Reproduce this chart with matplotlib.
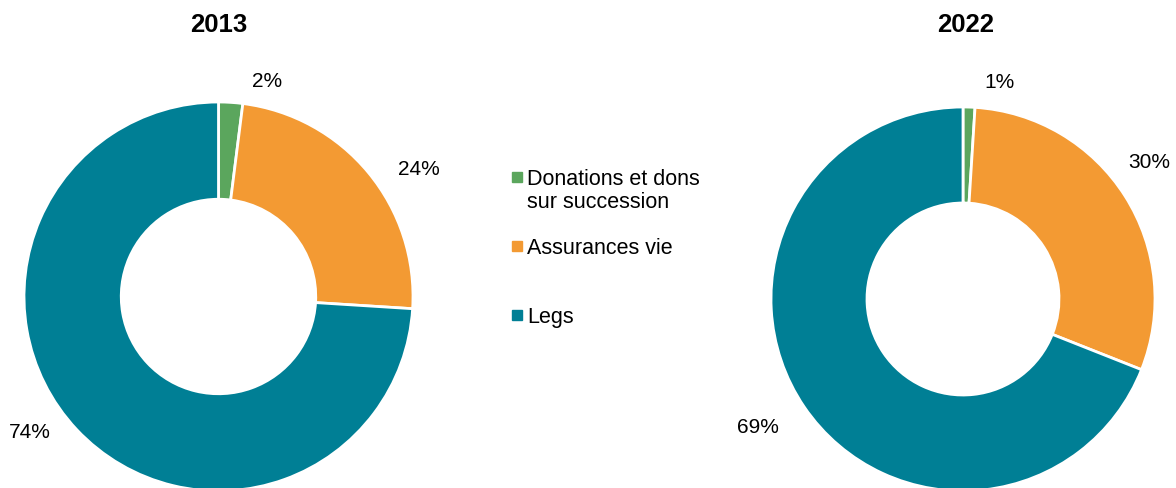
import matplotlib
matplotlib.use("Agg")
import matplotlib.pyplot as plt
from matplotlib.lines import Line2D

plt.rcParams['font.family'] = ['Liberation Sans', 'DejaVu Sans']

# ---- data ----
categories = ["Donations et dons\nsur succession", "Assurances vie", "Legs"]
years = ["2013", "2022"]
values_2013 = [2, 24, 74]
values_2022 = [1, 30, 69]
colors = ["#5BA65D", "#F39A33", "#007F95"]

# ---- layout (pixels) ----
W, H = 1176, 488
fig = plt.figure(figsize=(W / 100, H / 100), dpi=100)

donuts = [
    dict(vals=values_2013, title=years[0], cx=218.5, cy=296.5, R=194.5, title_x=219,
         label_pos=[(0.25, 1.105), (1.03, 0.655), (-0.97, -0.70)]),
    dict(vals=values_2022, title=years[1], cx=963, cy=299, R=192, title_x=966,
         label_pos=[(0.19, 1.13), (0.97, 0.71), (-1.07, -0.67)]),
]

lim = 1.3
for d in donuts:
    size = 2 * lim * d["R"]
    left = (d["cx"] - size / 2) / W
    bottom = (H - d["cy"] - size / 2) / H
    ax = fig.add_axes([left, bottom, size / W, size / H])
    ax.pie(d["vals"], colors=colors, startangle=90, counterclock=False,
           radius=1.0, wedgeprops=dict(width=0.5, edgecolor="white", linewidth=2))
    ax.set_xlim(-lim, lim)
    ax.set_ylim(-lim, lim)
    ax.set_aspect("equal")
    ax.axis("off")
    for v, (lx, ly) in zip(d["vals"], d["label_pos"]):
        ax.text(lx, ly, f"{v}%", ha="center", va="center", fontsize=15, color="#000000")
    fig.text(d["title_x"] / W, 1 - 25 / H, d["title"], ha="center", va="center",
             fontsize=18.5, fontweight="bold")

# ---- legend ----
legend_y = [177, 246, 315]
line_h = 23
for cat, col, y in zip(categories, colors, legend_y):
    fig.add_artist(Line2D([516.5 / W], [1 - y / H], marker="s", markersize=6.5,
                          color=col, linestyle="none", transform=fig.transFigure))
    n_extra = cat.count("\n")
    fig.text(527 / W, 1 - (y + 8 + n_extra * line_h) / H, cat, ha="left",
             va="baseline", fontsize=15.5, linespacing=1.12)

fig.savefig("out.png", dpi=100)
